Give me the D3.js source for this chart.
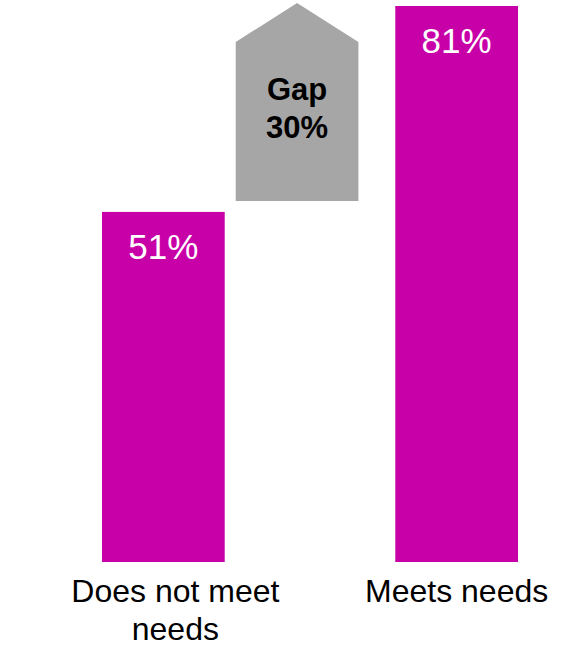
<!DOCTYPE html>
<html>
<head>
<meta charset="utf-8">
<script src="https://cdn.jsdelivr.net/npm/d3@7"></script>
<style>
  body { margin: 0; background: #fff; }
  svg { display: block; font-family: "Liberation Sans", Arial, sans-serif; }
</style>
</head>
<body>
<svg id="chart" width="577" height="650"></svg>
<script>
const width = 577, height = 650;

const categories = ["Does not meet needs", "Meets needs"];
const labelLines = [["Does not meet", "needs"], ["Meets needs"]];
const values = [51, 81];
const gapLabel = ["Gap", "30%"];

const svg = d3.select("#chart");

const x = d3.scaleBand()
    .domain(categories)
    .range([102, 518])
    .paddingInner(0.5816)
    .paddingOuter(0);

const y = d3.scaleLinear()
    .domain([0, d3.max(values)])
    .range([562, 6]);

const bw = x.bandwidth();

// bars
svg.selectAll(".bar")
    .data(values)
    .join("rect")
    .attr("class", "bar")
    .attr("x", (d, i) => x(categories[i]))
    .attr("y", d => y(d))
    .attr("width", bw)
    .attr("height", d => y(0) - y(d))
    .attr("fill", "#C800A8");

// value labels
svg.selectAll(".val")
    .data(values)
    .join("text")
    .attr("class", "val")
    .attr("x", (d, i) => x(categories[i]) + bw / 2)
    .attr("y", d => y(d) + 47)
    .attr("text-anchor", "middle")
    .attr("fill", "#fff")
    .attr("font-size", 35)
    .text(d => d + "%");

// category labels
labelLines.forEach((lines, i) => {
    const cx = x(categories[i]) + bw / 2 + (lines.length > 1 ? 12 : 0);
    const t = svg.append("text")
        .attr("text-anchor", "middle")
        .attr("font-size", 32)
        .attr("fill", "#000");
    lines.forEach((l, j) => {
        t.append("tspan").attr("x", cx).attr("y", 602 + j * 38).text(l);
    });
});

// gap arrow
const ax0 = x(categories[0]) + bw + 11, ax1 = ax0 + bw;
const bottom = y(values[0]) - 11;
const apex = y(values[1]) - 3;
const shoulder = apex + 39;
svg.append("path")
    .attr("d", d3.line()([
        [ax0, bottom], [ax0, shoulder], [(ax0 + ax1) / 2, apex],
        [ax1, shoulder], [ax1, bottom]
    ]) + "Z")
    .attr("fill", "#A6A6A6");

const mid = (shoulder + bottom) / 2;
svg.selectAll(".gap")
    .data(gapLabel)
    .join("text")
    .attr("class", "gap")
    .attr("x", (ax0 + ax1) / 2)
    .attr("y", (d, i) => mid - 21 + i * 38)
    .attr("text-anchor", "middle")
    .attr("font-weight", "bold")
    .attr("font-size", 31)
    .attr("fill", "#000")
    .text(d => d);
</script>
</body>
</html>
